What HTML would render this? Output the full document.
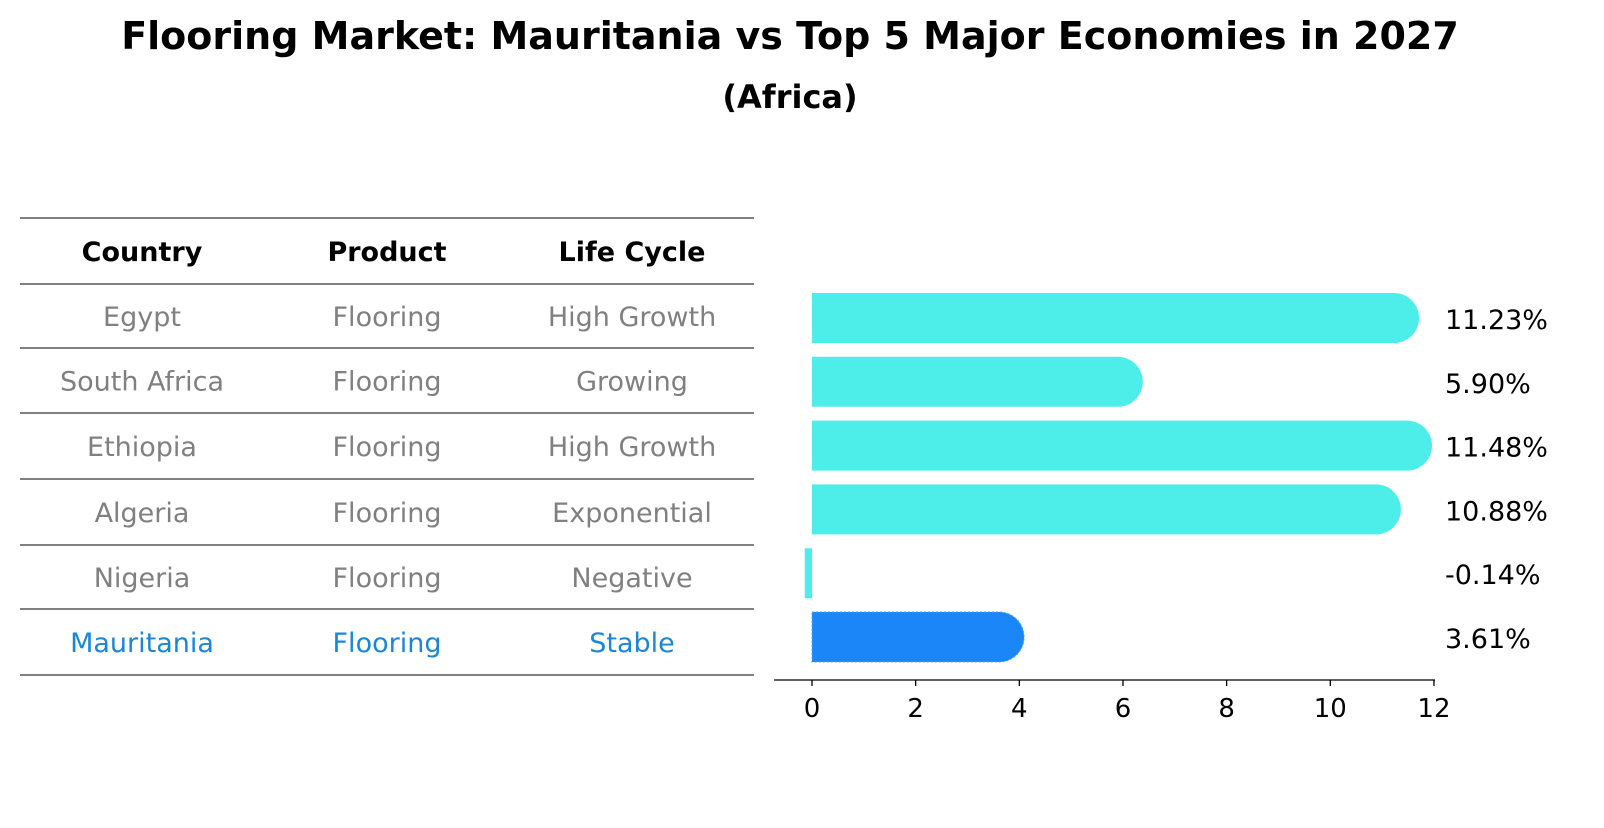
<!DOCTYPE html>
<html><head><meta charset="utf-8"><style>
body{margin:0;background:#fff;font-family:"Liberation Sans","DejaVu Sans",sans-serif;}
svg text{font-family:"DejaVu Sans","Liberation Sans",sans-serif;}
</style></head><body>
<svg id="c" width="1604" height="823" xmlns="http://www.w3.org/2000/svg">
<text x="790" y="49" text-anchor="middle" font-size="38" font-weight="bold">Flooring Market: Mauritania vs Top 5 Major Economies in 2027</text>
<text x="790" y="108" text-anchor="middle" font-size="32" font-weight="bold">(Africa)</text>
<g id="table"></g>
<g id="bars"></g>
</svg>
<script>
const countries=["Egypt","South Africa","Ethiopia","Algeria","Nigeria","Mauritania"];
const products=["Flooring","Flooring","Flooring","Flooring","Flooring","Flooring"];
const lifeCycles=["High Growth","Growing","High Growth","Exponential","Negative","Stable"];
const values=[11.23,5.90,11.48,10.88,-0.14,3.61];
const ticks=[0,2,4,6,8,10,12];
const NS="http://www.w3.org/2000/svg";
function mk(t,a,p){const e=document.createElementNS(NS,t);for(const k in a)e.setAttribute(k,a[k]);p.appendChild(e);return e;}
const tb=document.getElementById('table'), bg=document.getElementById('bars');
const lineYs=[218,284,348,413,479,545,609,675];
lineYs.forEach((y,i)=>{const l=mk('line',{x1:20,x2:754,y1:y,y2:y,stroke:'#000','stroke-width':1},tb);

});
const cx=[142,387,632];
["Country","Product","Life Cycle"].forEach((h,i)=>{const t=mk('text',{x:cx[i],y:261,'text-anchor':'middle','font-size':27,'font-weight':'bold'},tb);t.textContent=h;

});
const rowY=i=>(lineYs[i+1]+lineYs[i+2])/2+10;
countries.forEach((c,i)=>{const col=i===5?'#1a86d8':'#808080';[c,products[i],lifeCycles[i]].forEach((v,j)=>{
const t=mk('text',{x:cx[j],y:rowY(i),'text-anchor':'middle','font-size':27,fill:col},tb);t.textContent=v;

});});
const x=v=>812+v*51.83;
const barC=i=>318+i*63.8, bh=50;
const ax=mk('line',{x1:774,x2:1435,y1:680,y2:680,stroke:'#000','stroke-width':1.3},bg);


ticks.forEach(t=>{const l=mk('line',{x1:x(t),x2:x(t),y1:680,y2:686,stroke:'#000','stroke-width':1.3},bg);


const tx=mk('text',{x:x(t),y:717,'text-anchor':'middle','font-size':26},bg);tx.textContent=t;

});
values.forEach((v,i)=>{const col=i===5?'#1a86f7':'#4deeea';const y0=barC(i)-bh/2;let d;
if(v>0){const xe=x(v),r=bh/2;d=`M${x(0)},${y0}H${xe}A${r},${r} 0 0 1 ${xe},${y0+bh}H${x(0)}Z`;}
else{d=`M${x(v)},${y0}H${x(0)}V${y0+bh}H${x(v)}Z`;}
const p=mk('path',{d:d,fill:col},bg);
if(i===5){p.setAttribute('stroke','#4da6ff');p.setAttribute('stroke-dasharray','2,2');}


const t=mk('text',{x:1445,y:barC(i)+11,'font-size':27},bg);t.textContent=v.toFixed(2)+'%';

});
</script>
</body></html>
